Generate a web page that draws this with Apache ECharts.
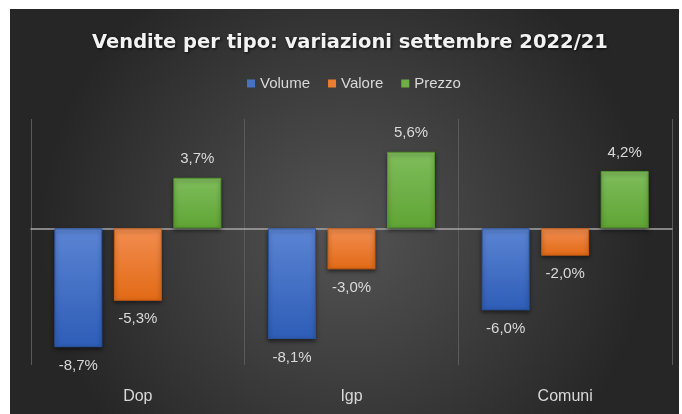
<!DOCTYPE html>
<html>
<head>
<meta charset="utf-8">
<script src="https://cdn.jsdelivr.net/npm/echarts@6/dist/echarts.min.js"></script>
<style>
  body { margin: 0; background: #fff; }
  #main { position: absolute; left: 10px; top: 9px; width: 669px; height: 405px; }
</style>
</head>
<body>
<div id="main"></div>
<script>
var categories = ['Dop', 'Igp', 'Comuni']
var seriesNames = ['Volume', 'Valore', 'Prezzo']
var volume = [-8.7, -8.1, -6.0]
var valore = [-5.3, -3.0, -2.0]
var prezzo = [3.7, 5.6, 4.2]

var labelColor = '#d9d9d9'
var font = 'Liberation Sans'

function grad(top, bottom) {
  return new echarts.graphic.LinearGradient(0, 0, 0, 1, [
    { offset: 0, color: top },
    { offset: 1, color: bottom }
  ])
}

function items(values) {
  return values.map(function (v) {
    return { value: v, label: { position: v < 0 ? 'bottom' : 'top' } }
  })
}

function makeSeries(name, values, top, bottom, border) {
  return {
    name: name,
    type: 'bar',
    barWidth: 48,
    barGap: '24%',
    data: items(values),
    itemStyle: {
      color: grad(top, bottom),
      borderColor: border,
      borderWidth: 1,
      shadowBlur: 4,
      shadowColor: 'rgba(0,0,0,0.5)',
      shadowOffsetY: 2
    },
    label: {
      show: true,
      distance: 11,
      color: labelColor,
      fontFamily: font,
      fontSize: 15,
      formatter: function (p) {
        return p.value.toFixed(1).replace('.', ',') + '%'
      }
    }
  }
}

var myChart = echarts.init(document.getElementById('main'))
var option = {
  backgroundColor: new echarts.graphic.RadialGradient(0.5, 0.55, 0.75, [
    { offset: 0, color: '#545454' },
    { offset: 1, color: '#262626' }
  ]),
  animation: false,
  title: {
    text: 'Vendite per tipo: variazioni settembre 2022/21',
    left: 77,
    top: 19,
    textStyle: {
      color: '#f2f2f2',
      fontFamily: 'DejaVu Sans',
      fontWeight: 'bold',
      fontSize: 19.5,
      textShadowColor: 'rgba(0,0,0,0.8)',
      textShadowBlur: 3,
      textShadowOffsetX: 1,
      textShadowOffsetY: 1
    }
  },
  legend: {
    top: 62,
    left: 232,
    itemWidth: 8,
    itemHeight: 8,
    itemGap: 18,
    icon: 'rect',
    textStyle: { color: labelColor, fontFamily: font, fontSize: 15 },
    data: [
      { name: seriesNames[0], itemStyle: { color: '#4472c4', borderWidth: 0 } },
      { name: seriesNames[1], itemStyle: { color: '#ed7d31', borderWidth: 0 } },
      { name: seriesNames[2], itemStyle: { color: '#70ad47', borderWidth: 0 } }
    ]
  },
  grid: { left: 21, right: 7, top: 110, height: 246 },
  xAxis: [
    {
      type: 'category',
      data: categories,
      position: 'bottom',
      axisLine: { show: false, onZero: false },
      axisTick: { show: false },
      axisLabel: { color: labelColor, fontFamily: font, fontSize: 16, margin: 24 },
      splitLine: { show: true, lineStyle: { color: '#5a5a5a', width: 1 } }
    },
    {
      type: 'category',
      data: categories,
      axisLine: { show: true, onZero: true, lineStyle: { color: '#a6a6a6', width: 1.5 } },
      axisTick: { show: false },
      axisLabel: { show: false },
      splitLine: { show: false }
    }
  ],
  yAxis: {
    type: 'value',
    min: -10,
    max: 8,
    interval: 2,
    show: false,
    splitLine: { show: false }
  },
  series: [
    makeSeries(seriesNames[0], volume, '#5b84d3', '#2e5db7', '#2a549f'),
    makeSeries(seriesNames[1], valore, '#f28d50', '#e26a16', '#c65c12'),
    makeSeries(seriesNames[2], prezzo, '#7fbd5c', '#5fa434', '#54912e')
  ]
}
myChart.setOption(option)
</script>
</body>
</html>
